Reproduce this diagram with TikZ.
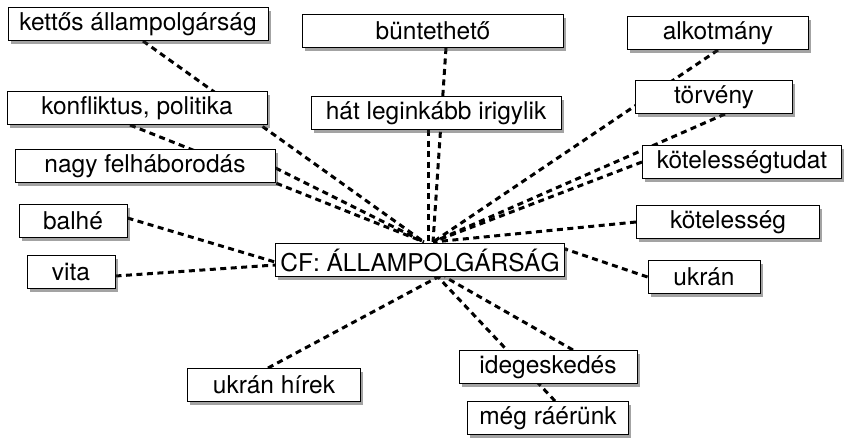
\documentclass[tikz,border=0pt]{standalone}
\usepackage{fontspec}
\setmainfont{TeX Gyre Heros}
\usetikzlibrary{shadows, backgrounds}

\tikzset{
  concept/.style={draw, fill=white, line width=1pt, inner sep=0pt, minimum height=33pt,
    font=\fontsize{24.5}{28}\selectfont,
    drop shadow={shadow xshift=2.5pt, shadow yshift=-3pt, opacity=0.45, fill=black!80}},
  link/.style={line width=3pt, dash pattern=on 6pt off 4.5pt}
}

\begin{document}
\begin{tikzpicture}[x=1pt, y=-1pt]
      \useasboundingbox (0,0) rectangle (847,437);

      % upper row
      \node[concept, minimum width=260pt] (kettos) at (138,24) {kettős állampolgárság};
      \node[concept, minimum width=261pt] (bunt) at (433,31) {büntethető};
      \node[concept, minimum width=181pt] (alk) at (718,33) {alkotmány};
      \node[concept, minimum width=260pt] (konf) at (137,108) {konfliktus, politika};
      \node[concept, minimum width=250pt] (hat) at (436,113) {hát leginkább irigylik};
      \node[concept, minimum width=157pt] (torv) at (714,97) {törvény};
      \node[concept, minimum width=260pt] (nagy) at (145,166) {nagy felháborodás};
      \node[concept, minimum width=199pt] (ktud) at (742,162) {kötelességtudat};

      % middle row
      \node[concept, minimum width=108pt] (balhe) at (73,221) {balhé};
      \node[concept, minimum width=183pt] (kot) at (728,222) {kötelesség};
      \node[concept, minimum width=289pt] (cf) at (420,260) {CF: ÁLLAMPOLGÁRSÁG};
      \node[concept, minimum width=88pt] (vita) at (71,272) {vita};
      \node[concept, minimum width=112pt] (ukr) at (704,277) {ukrán};

      % lower row
      \node[concept, minimum width=173pt] (hirek) at (274,385) {ukrán hírek};
      \node[concept, minimum width=178pt] (ideg) at (548,367) {idegeskedés};
      \node[concept, minimum width=161pt] (meg) at (548,418) {még ráérünk};

      \coordinate (hubl) at ([xshift=4pt, yshift=1pt]cf.north);
      \coordinate (hubm) at ([xshift=8pt, yshift=1pt]cf.north);
      \coordinate (hubr) at ([xshift=13pt, yshift=1pt]cf.north);
      \coordinate (hubb) at ([xshift=18pt]cf.south);

      \begin{scope}[on background layer]
      \draw[link] ([xshift=5pt]kettos.south) -- (hubl);
      \draw[link] ([xshift=-7pt]konf.south) -- (hubl);
      \draw[link] ([yshift=-2pt]nagy.east) -- (hubl);
      \draw[link] ([xshift=-8pt]hat.south) -- (hubm);
      \draw[link] ([xshift=13pt]bunt.south) -- (hubr);
      \draw[link] (alk.south) -- (hubr);
      \draw[link] ([xshift=11pt]torv.south) -- (hubr);
      \draw[link] (ktud.west) -- (hubr);
      \draw[link] (kot.west) -- (hubr);
      \draw[link] ([yshift=3pt]balhe.east) -- ([yshift=-2pt]cf.west);
      \draw[link] ([yshift=-4pt]vita.east) -- ([yshift=-5pt]cf.west);
      \draw[link] (ukr.west) -- ([yshift=11pt]cf.east);
      \draw[link] ([xshift=-6pt]hirek.north) -- (hubb);
      \draw[link] ([xshift=7pt]meg.north) -- (hubb);
      \draw[link] ([xshift=25pt]ideg.north) -- ([xshift=25pt]cf.south);
      \end{scope}
    \end{tikzpicture}
\end{document}
